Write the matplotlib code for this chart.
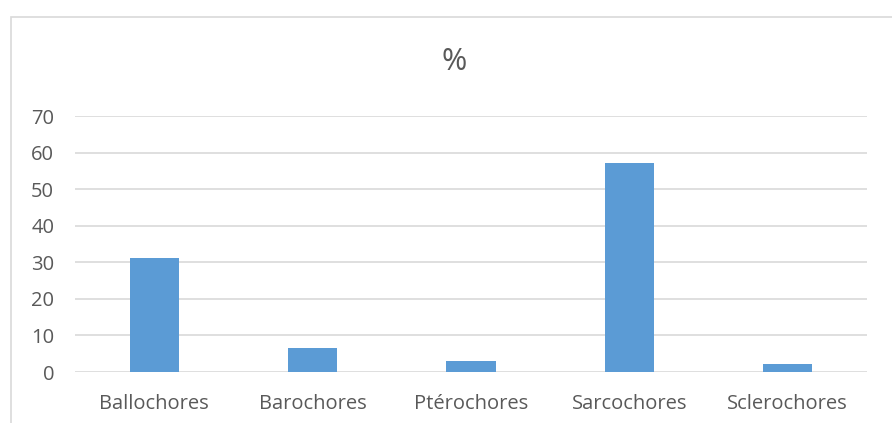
import matplotlib
matplotlib.use('Agg')
import matplotlib.pyplot as plt
from matplotlib.patches import Rectangle

categories = ['Ballochores', 'Barochores', 'Ptérochores', 'Sarcochores', 'Sclerochores']
values = [31.1, 6.6, 3.1, 57.2, 2.1]
yticks = [0, 10, 20, 30, 40, 50, 60, 70]

plt.rcParams['font.family'] = ['Open Sans', 'DejaVu Sans']

fig = plt.figure(figsize=(8.92, 4.23), dpi=100)
# chart frame (cut off at right and bottom like the screenshot)
fig.patches.append(Rectangle((11/892, -0.05), 1.0, 1 - 17/423 + 0.05,
                             transform=fig.transFigure, fill=False,
                             edgecolor='#d9d9d9', linewidth=1.2))

ax = fig.add_axes([75/892, 1 - 372/423, (867 - 75)/892, (372 - 116)/423])
x = range(len(categories))
ax.bar(x, values, width=0.31, color='#5b9bd5', zorder=3)
ax.set_xlim(-0.5, len(categories) - 0.5)
ax.set_ylim(0, 70)
ax.set_yticks(yticks)
ax.set_xticks(list(x))
ax.set_xticklabels(categories)
ax.grid(axis='y', color='#d9d9d9', linewidth=1.2, zorder=0)
for s in ax.spines.values():
    s.set_visible(False)
ax.tick_params(axis='both', length=0, labelsize=14.5, colors='#595959')
ax.tick_params(axis='x', pad=16)
ax.tick_params(axis='y', pad=15)

fig.text(454/892, 1 - 62/423, '%', ha='center', va='center', fontsize=22, color='#595959')

fig.savefig('out.png', dpi=100)
